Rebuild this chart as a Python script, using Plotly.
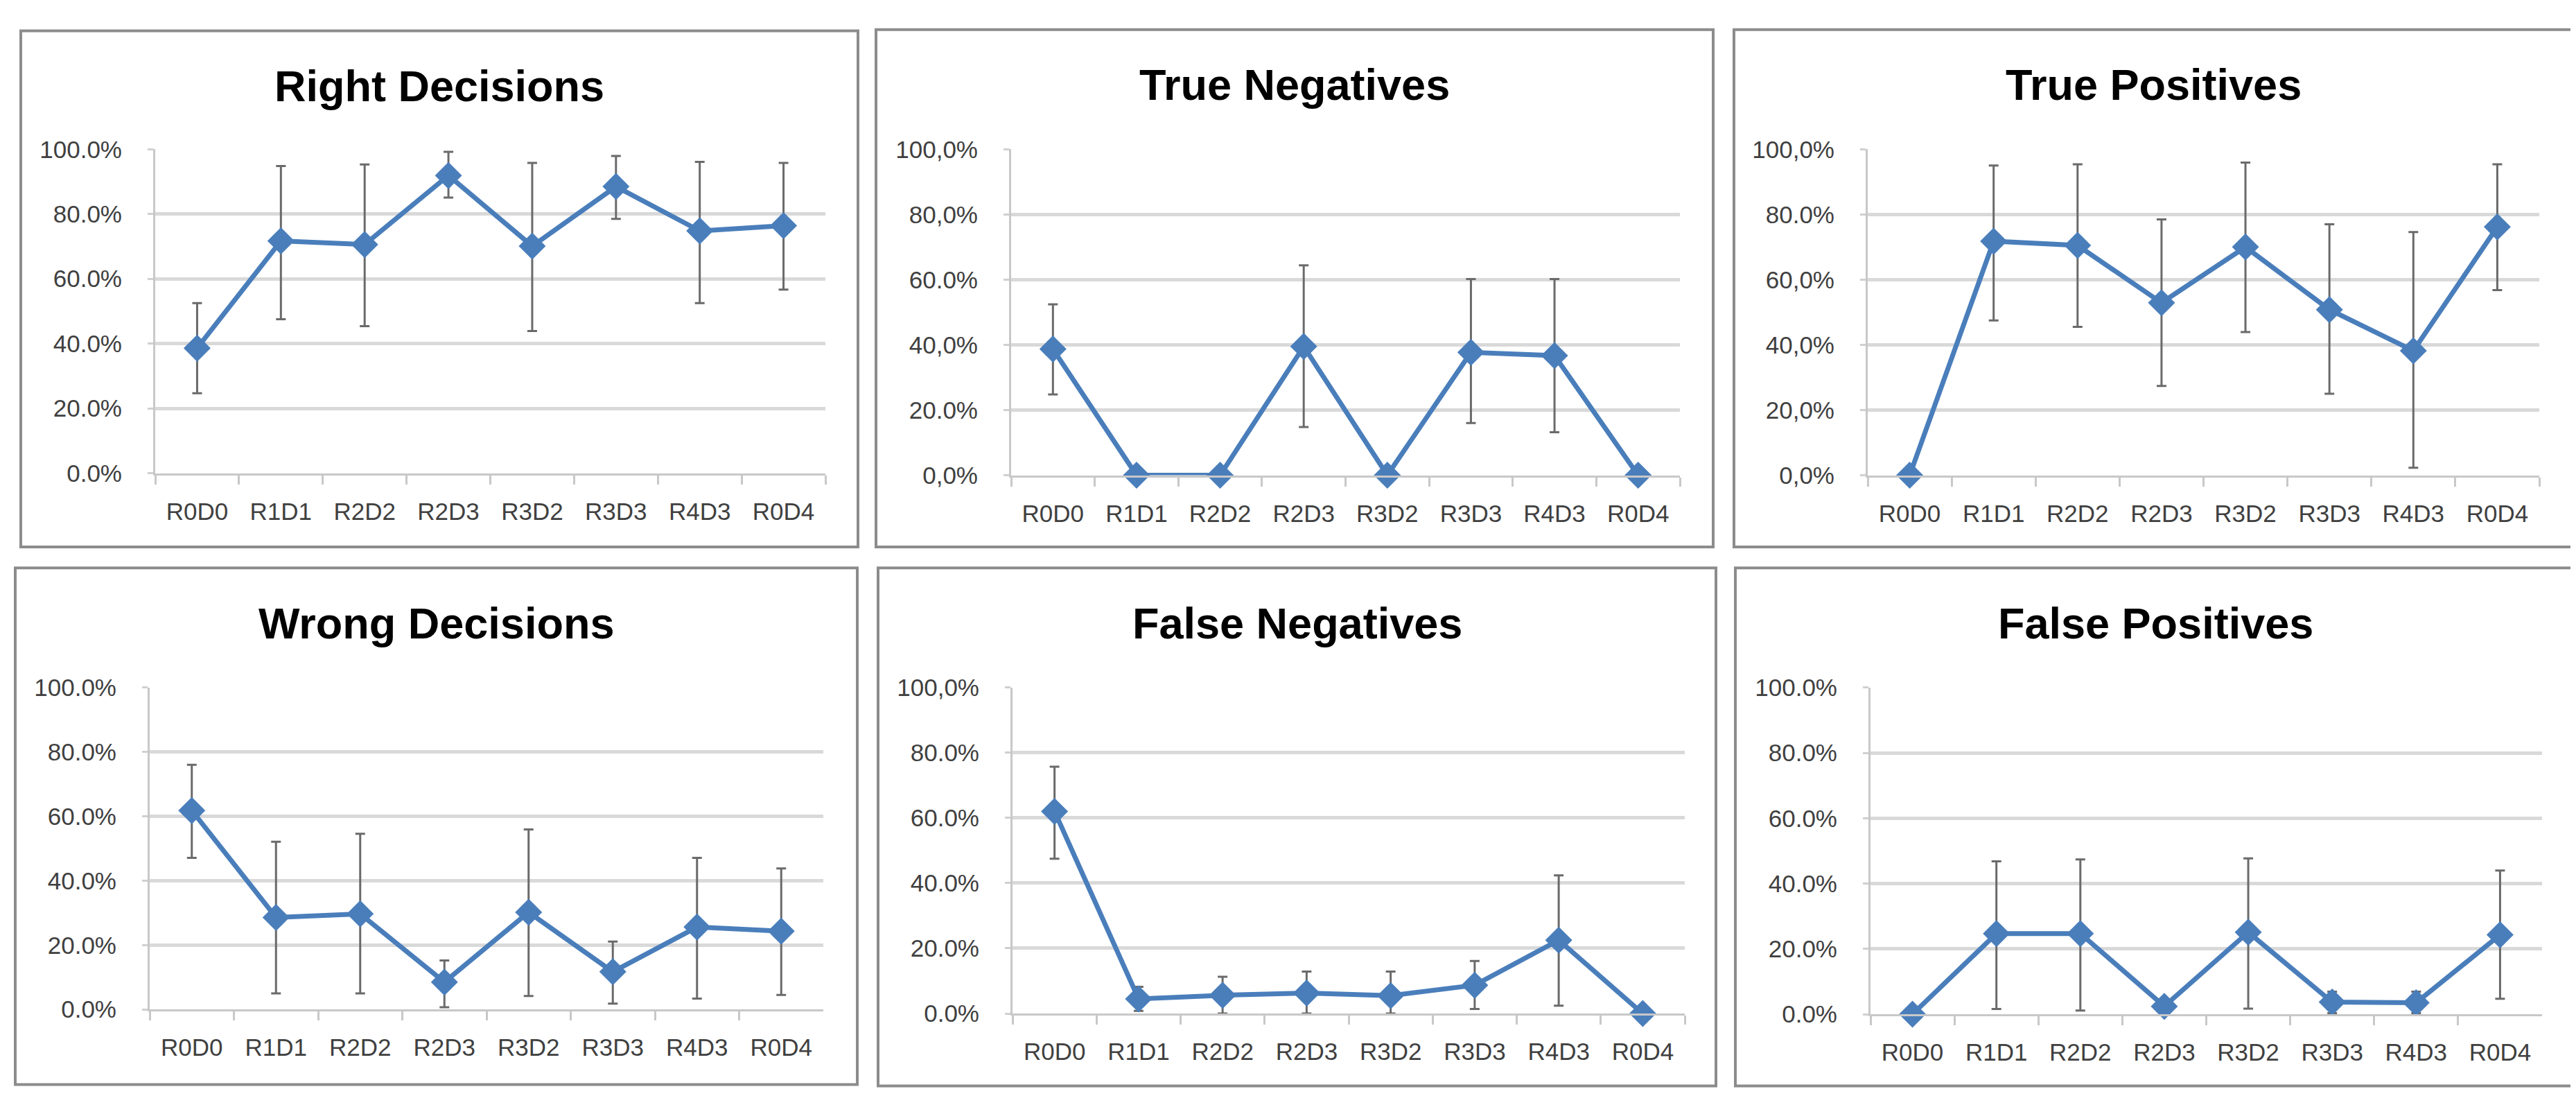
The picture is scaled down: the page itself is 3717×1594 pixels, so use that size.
import plotly.graph_objects as go

W, H = 3717, 1594

categories = ["R0D0", "R1D1", "R2D2", "R2D3", "R3D2", "R3D3", "R4D3", "R0D4"]
y_tickvals = [0, 20, 40, 60, 80, 100]

titles = ["Right Decisions", "True Negatives", "True Positives",
          "Wrong Decisions", "False Negatives", "False Positives"]

# values (%) and error-bar ends (%)
right_val = [38.6, 71.7, 70.6, 91.9, 70.1, 88.5, 74.8, 76.4]
right_hi = [52.5, 94.8, 95.3, 99.2, 95.8, 97.9, 96.1, 95.8]
right_lo = [24.7, 47.5, 45.4, 85.1, 43.9, 78.5, 52.5, 56.7]

tn_val = [38.7, 0.0, 0.0, 39.5, 0.0, 37.7, 36.7, 0.0]
tn_hi = [52.4, 0.0, 0.0, 64.4, 0.0, 60.2, 60.2, 0.0]
tn_lo = [24.8, 0.0, 0.0, 14.8, 0.0, 16.0, 13.2, 0.0]

tp_val = [0.0, 71.8, 70.5, 52.9, 70.0, 50.8, 38.2, 76.2]
tp_hi = [0.0, 95.0, 95.4, 78.5, 95.9, 77.0, 74.6, 95.4]
tp_lo = [0.0, 47.5, 45.5, 27.4, 43.9, 25.0, 2.3, 56.8]

wrong_val = [61.8, 28.6, 29.7, 8.5, 30.2, 11.7, 25.6, 24.3]
wrong_hi = [76.0, 52.1, 54.6, 15.2, 55.9, 21.1, 47.1, 43.8]
wrong_lo = [47.1, 5.0, 5.0, 0.7, 4.2, 1.8, 3.4, 4.5]

fn_val = [62.0, 4.5, 5.6, 6.3, 5.5, 8.7, 22.5, 0.0]
fn_hi = [75.7, 8.2, 11.3, 12.9, 12.9, 16.1, 42.4, 0.0]
fn_lo = [47.5, 0.8, 0.0, 0.0, 0.0, 1.4, 2.4, 0.0]

fp_val = [0.0, 24.7, 24.7, 2.4, 25.1, 3.7, 3.5, 24.3]
fp_hi = [0.0, 46.8, 47.4, 4.2, 47.7, 6.9, 6.9, 44.0]
fp_lo = [0.0, 1.6, 1.1, 0.0, 1.7, 0.3, 0.3, 4.7]

ticktext_right = ["0.0%", "20.0%", "40.0%", "60.0%", "80.0%", "100.0%"]
ticktext_tn = ["0,0%", "20.0%", "40,0%", "60.0%", "80,0%", "100,0%"]
ticktext_tp = ["0,0%", "20,0%", "40,0%", "60,0%", "80.0%", "100,0%"]
ticktext_wrong = ["0.0%", "20.0%", "40.0%", "60.0%", "80.0%", "100.0%"]
ticktext_fn = ["0.0%", "20.0%", "40.0%", "60.0%", "80.0%", "100,0%"]
ticktext_fp = ["0.0%", "20.0%", "40.0%", "60.0%", "80.0%", "100.0%"]

series = [
    (right_val, right_hi, right_lo, ticktext_right),
    (tn_val, tn_hi, tn_lo, ticktext_tn),
    (tp_val, tp_hi, tp_lo, ticktext_tp),
    (wrong_val, wrong_hi, wrong_lo, ticktext_wrong),
    (fn_val, fn_hi, fn_lo, ticktext_fn),
    (fp_val, fp_hi, fp_lo, ticktext_fp),
]

# layout geometry (pixels): plot area and panel border boxes
plot_boxes = [
    (216, 1183, 192, 671), (1451, 2416, 192, 674), (2687, 3656, 192, 674),
    (208, 1180, 988, 1464), (1453, 2423, 988, 1470), (2691, 3660, 988, 1471),
]
border_boxes = [
    (22, 1230, 17, 780), (1256, 2464, 15, 780), (2494, 3705, 15, 780),
    (14, 1229, 811, 1575), (1259, 2468, 811, 1577), (2496, 3708, 811, 1577),
]
title_y = [98, 96, 96, 893, 893, 893]

FONT = "Liberation Sans, Arial, sans-serif"
BLUE = "#4A7EBB"

fig = go.Figure()
shapes = []
annotations = []

for i, ((vals, hi, lo, ttext), (xl, xr, yt, yb), (bx0, bx1, by0, by1), ty, title) in enumerate(
        zip(series, plot_boxes, border_boxes, title_y, titles)):
    n = i + 1
    xa = "x" if n == 1 else f"x{n}"
    ya = "y" if n == 1 else f"y{n}"
    plus = [h - v for h, v in zip(hi, vals)]
    minus = [v - l for v, l in zip(vals, lo)]
    fig.add_trace(go.Scatter(
        x=categories, y=vals, xaxis=xa, yaxis=ya,
        mode="lines+markers",
        line=dict(color=BLUE, width=7),
        marker=dict(symbol="diamond", size=30, color=BLUE),
        error_y=dict(type="data", symmetric=False, array=plus, arrayminus=minus,
                     color="#6a6a6a", thickness=3, width=7),
        cliponaxis=False, showlegend=False,
    ))
    xkey = "xaxis" if n == 1 else f"xaxis{n}"
    ykey = "yaxis" if n == 1 else f"yaxis{n}"
    fig.layout[xkey] = dict(
        domain=[xl / W, xr / W], anchor=ya, type="category",
        range=[-0.5, len(categories) - 0.5],
        showgrid=False, zeroline=False,
        showline=True, linecolor="#c8c8c8", linewidth=3,
        ticks="outside", tickson="boundaries", ticklen=13, tickwidth=3,
        tickcolor="#c8c8c8", ticklabelstandoff=22,
        tickfont=dict(family=FONT, size=35, color="#404040"),
        fixedrange=True,
    )
    fig.layout[ykey] = dict(
        domain=[1 - yb / H, 1 - yt / H], anchor=xa,
        range=[0, 100], tickvals=y_tickvals, ticktext=ttext,
        showgrid=True, gridcolor="#d9d9d9", gridwidth=5,
        zeroline=False, showline=True, linecolor="#c8c8c8", linewidth=3,
        ticks="outside", ticklen=8, tickwidth=3, tickcolor="#d0d0d0",
        ticklabelstandoff=30,
        tickfont=dict(family=FONT, size=35, color="#404040"),
        fixedrange=True,
    )
    shapes.append(dict(type="rect", xref="paper", yref="paper",
                       x0=bx0 / W, x1=bx1 / W, y0=1 - by1 / H, y1=1 - by0 / H,
                       line=dict(color="#8c8c8c", width=4), layer="below"))
    annotations.append(dict(text=f"<b>{title}</b>", xref="paper", yref="paper",
                            x=(bx0 + bx1) / 2 / W, y=1 - ty / H,
                            xanchor="center", yanchor="middle", showarrow=False,
                            font=dict(family=FONT, size=63, color="#000000")))

fig.update_layout(
    width=W, height=H,
    margin=dict(l=0, r=0, t=0, b=0),
    paper_bgcolor="white", plot_bgcolor="white",
    shapes=shapes, annotations=annotations,
)

fig.write_html("out.html")
